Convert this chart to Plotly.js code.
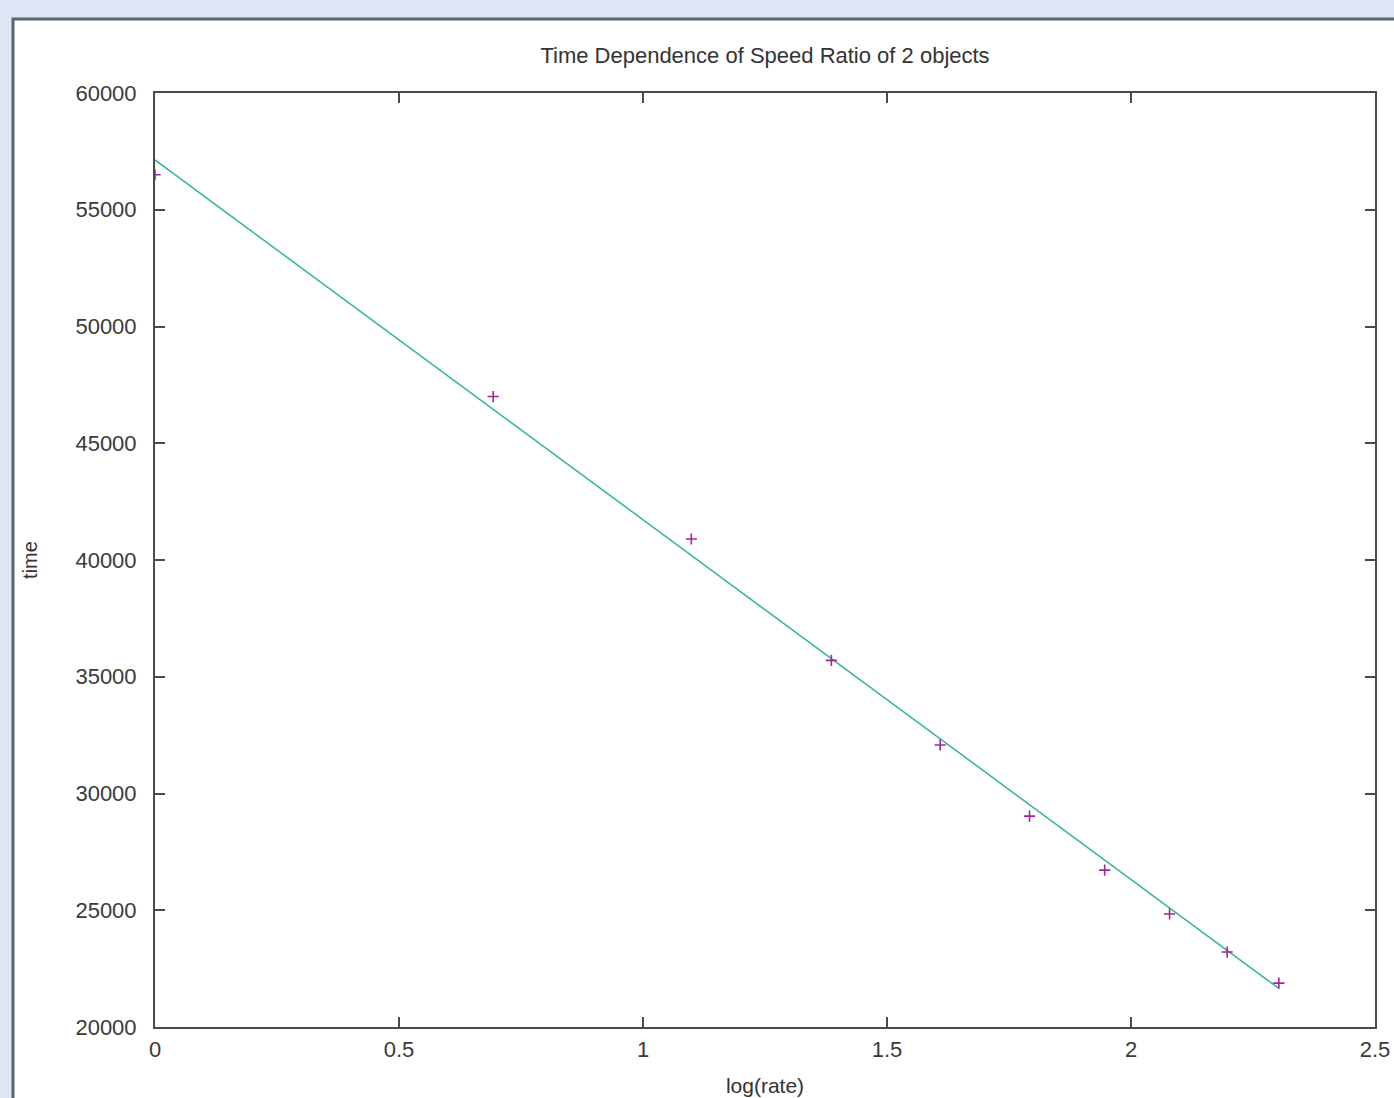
<!DOCTYPE html>
<html>
<head>
<meta charset="utf-8">
<script src="https://cdn.plot.ly/plotly-3.0.1.min.js"></script>
<style>
html,body{margin:0;padding:0;background:#dce6f5;}
#chart{width:1394px;height:1098px;}
</style>
</head>
<body>
<div id="chart"></div>
<script>
// measured data points: x = log(rate), y = time
const logRate = [0, 0.693, 1.099, 1.386, 1.609, 1.792, 1.946, 2.079, 2.197, 2.303];
const timeVals = [56500, 47000, 40900, 35700, 32080, 29030, 26720, 24840, 23210, 21880];
// fitted line endpoints
const fitX = [0, 2.303];
const fitY = [57130, 21650];

const xTicks = [0, 0.5, 1, 1.5, 2, 2.5];
const xTickText = ['0', '0.5', '1', '1.5', '2', '2.5'];
const yTicks = [20000, 25000, 30000, 35000, 40000, 45000, 50000, 55000, 60000];
const yTickText = ['20000', '25000', '30000', '35000', '40000', '45000', '50000', '55000', '60000'];

const L = 155, R = 19, T = 93, B = 71, W = 1394, H = 1098;
const pw = W - L - R, ph = H - T - B;
const px = v => (v - L) / pw;
const py = v => (H - B - v) / ph;

const traces = [
  {
    x: fitX, y: fitY, mode: 'lines', type: 'scatter',
    line: {color: '#3db89e', width: 1.6},
    hoverinfo: 'skip', showlegend: false
  },
  {
    x: logRate, y: timeVals, mode: 'markers', type: 'scatter',
    marker: {symbol: 'cross-thin', size: 8, line: {color: '#a0269e', width: 1.6}, color: '#a0269e'},
    showlegend: false
  }
];

const axisCommon = {
  showline: true, linecolor: '#4a4a4a', linewidth: 2,
  mirror: 'allticks', ticks: 'inside', ticklen: 10, tickwidth: 2, tickcolor: '#4a4a4a',
  showgrid: false, zeroline: false,
  tickfont: {family: 'Liberation Sans, Arial, sans-serif', size: 22, color: '#3a3a3a'}
};

const layout = {
  width: W, height: H,
  margin: {l: L, r: R, t: T, b: B, pad: 0},
  paper_bgcolor: '#dce6f5',
  plot_bgcolor: 'rgba(0,0,0,0)',
  font: {family: 'Liberation Sans, Arial, sans-serif', color: '#3a3a3a', size: 18},
  title: {
    text: 'Time Dependence of Speed Ratio of 2 objects',
    font: {family: 'Liberation Sans, Arial, sans-serif', size: 22, color: '#333'},
    x: 0.5, xref: 'paper', xanchor: 'center',
    y: 1 - 55 / H, yref: 'container', yanchor: 'middle'
  },
  xaxis: Object.assign({}, axisCommon, {
    range: [0, 2.5], tickvals: xTicks, ticktext: xTickText,
    ticklabelstandoff: 2,
    title: {text: 'log(rate)', font: {size: 21, color: '#333'}, standoff: 17}
  }),
  yaxis: Object.assign({}, axisCommon, {
    range: [20000, 60000], tickvals: yTicks, ticktext: yTickText,
    ticklabelstandoff: 12,
    title: {text: 'time', font: {size: 20, color: '#333'}, standoff: 32}
  }),
  shapes: [
    {
      type: 'rect', xref: 'paper', yref: 'paper', layer: 'below',
      x0: px(13), x1: px(W + 10), y0: py(H + 10), y1: py(19),
      fillcolor: '#ffffff', line: {color: '#5b6270', width: 3}
    }
  ]
};

Plotly.newPlot('chart', traces, layout, {displayModeBar: false, staticPlot: true});
</script>
</body>
</html>
